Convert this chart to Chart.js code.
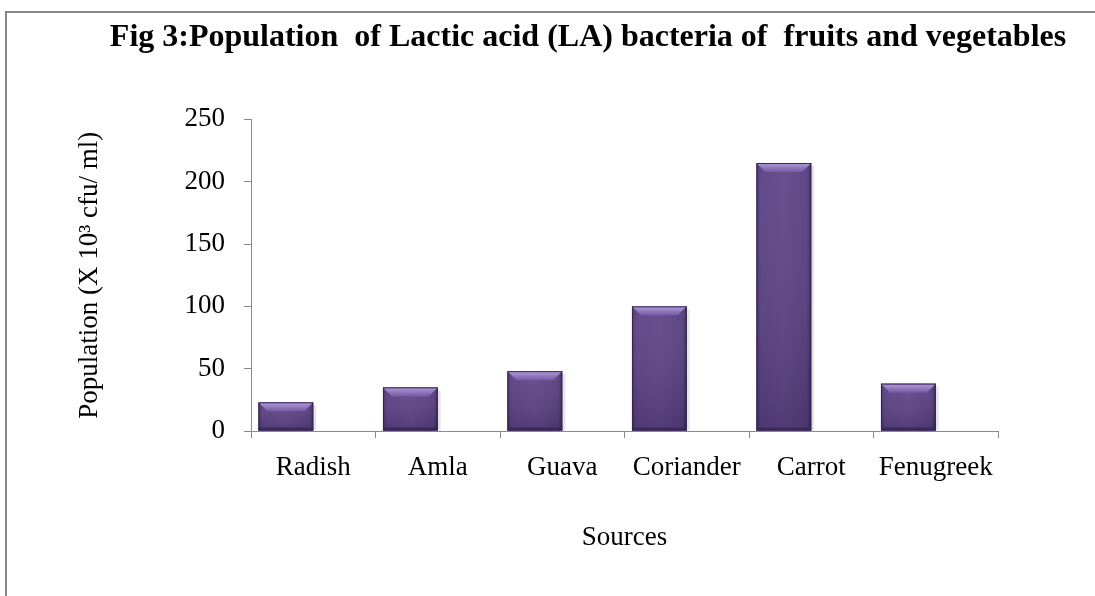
<!DOCTYPE html>
<html>
<head>
<meta charset="utf-8">
<script src="https://cdn.jsdelivr.net/npm/chart.js@4.4.1/dist/chart.umd.min.js"></script>
<style>
  html, body { margin: 0; padding: 0; background: #fff; overflow: hidden; width: 1095px; height: 596px; }
  #frame { position: absolute; left: 5px; top: 11px; width: 1200px; height: 700px;
           border-top: 2px solid #878787; border-left: 2px solid #878787; }
  #wrap { position: absolute; left: 0; top: 0; }
</style>
</head>
<body>
<div id="frame"></div>
<div id="wrap"><canvas id="fig3" width="1176" height="596"></canvas></div>
<script>
const sources = ["Radish", "Amla", "Guava", "Coriander", "Carrot", "Fenugreek"];
const laPopulation = [23, 35, 48, 100, 215, 38];
const yTicks = [0, 50, 100, 150, 200, 250];

const serif = "'Liberation Serif', 'Times New Roman', serif";
const axisGrey = "#8a8a8a";

// Excel style bevel on each bar
const bevelBars = {
  id: "bevelBars",
  afterDatasetsDraw(chart) {
    const ctx = chart.ctx;
    chart.getDatasetMeta(0).data.forEach((bar) => {
      const { x, y, base, width } = bar.getProps(["x", "y", "base", "width"], true);
      const l = x - width / 2, r = x + width / 2, h = base - y;
      const b = Math.min(9, h / 3);
      ctx.save();
      // soft shadow
      ctx.fillStyle = "rgba(0,0,0,0.10)";
      ctx.fillRect(r, y + 3, 3, h - 3);
      // body
      let g = ctx.createLinearGradient(l, 0, r, 0);
      g.addColorStop(0, "#47316c");
      g.addColorStop(0.08, "#5b4185");
      g.addColorStop(0.5, "#60468a");
      g.addColorStop(0.92, "#573e80");
      g.addColorStop(1, "#3b2859");
      ctx.fillStyle = g;
      ctx.fillRect(l, y, width, h);
      let v = ctx.createLinearGradient(0, y, 0, base);
      v.addColorStop(0, "rgba(255,255,255,0.05)");
      v.addColorStop(1, "rgba(0,0,0,0.14)");
      ctx.fillStyle = v;
      ctx.fillRect(l, y, width, h);
      // top bevel
      g = ctx.createLinearGradient(0, y, 0, y + b);
      g.addColorStop(0, "#b29cdb");
      g.addColorStop(1, "#755aa2");
      ctx.fillStyle = g;
      ctx.beginPath();
      ctx.moveTo(l, y);
      ctx.lineTo(r, y);
      ctx.lineTo(r - b, y + b);
      ctx.lineTo(l + b, y + b);
      ctx.closePath();
      ctx.fill();
      // bottom edge
      ctx.fillStyle = "#3c2a5c";
      ctx.fillRect(l, base - 3, width, 3);
      // outline
      ctx.strokeStyle = "#372553";
      ctx.lineWidth = 1;
      ctx.strokeRect(l + 0.5, y + 0.5, width - 1, h - 1);
      ctx.restore();
    });
  },
};

const data = {
  labels: sources,
  datasets: [
    {
      data: laPopulation,
      backgroundColor: "#5b4185",
      borderWidth: 0,
      barPercentage: 1,
      categoryPercentage: 0.88,
    },
    {
      // empty second series, as in the source spreadsheet
      data: sources.map(() => null),
      backgroundColor: "rgba(0,0,0,0)",
      barPercentage: 1,
      categoryPercentage: 0.88,
    },
  ],
};

const options = {
  responsive: false,
  animation: false,
  layout: { padding: 0 },
  plugins: {
    legend: { display: false },
    tooltip: { enabled: false },
    title: {
      display: true,
      text: "Fig 3:Population  of Lactic acid (LA) bacteria of  fruits and vegetables",
      color: "#000",
      font: { family: serif, size: 32, weight: "bold" },
      padding: { top: 19, bottom: 62 },
    },
  },
  scales: {
    x: {
      grid: { display: true, drawOnChartArea: false, drawTicks: true, tickLength: 7, color: axisGrey, offset: true },
      border: { display: true, color: axisGrey, width: 1 },
      ticks: { color: "#000", font: { family: serif, size: 27 }, padding: 14, maxRotation: 0, autoSkip: false },
      title: {
        display: true,
        text: "Sources",
        color: "#000",
        font: { family: serif, size: 27 },
        padding: { top: 0, bottom: 42 },
      },
      afterFit: (s) => { s.height = 165; },
    },
    y: {
      min: 0,
      max: 250,
      afterBuildTicks: (s) => { s.ticks = yTicks.map((v) => ({ value: v })); },
      grid: { display: true, drawOnChartArea: false, drawTicks: true, tickLength: 7, color: axisGrey },
      border: { display: true, color: axisGrey, width: 1 },
      ticks: { color: "#000", font: { family: serif, size: 27 }, padding: 19 },
      title: {
        display: true,
        text: "Population (X 10³ cfu/ ml)",
        color: "#000",
        font: { family: serif, size: 27 },
        padding: { top: 74, bottom: 0 },
      },
      afterFit: (s) => { s.width = 251; },
    },
    spacer: {
      position: "right",
      display: true,
      grid: { display: false },
      border: { display: false },
      ticks: { display: false },
      afterFit: (s) => { s.width = 178; },
    },
  },
};

new Chart(document.getElementById("fig3"), {
  type: "bar",
  data,
  options,
  plugins: [bevelBars],
});
</script>
</body>
</html>
